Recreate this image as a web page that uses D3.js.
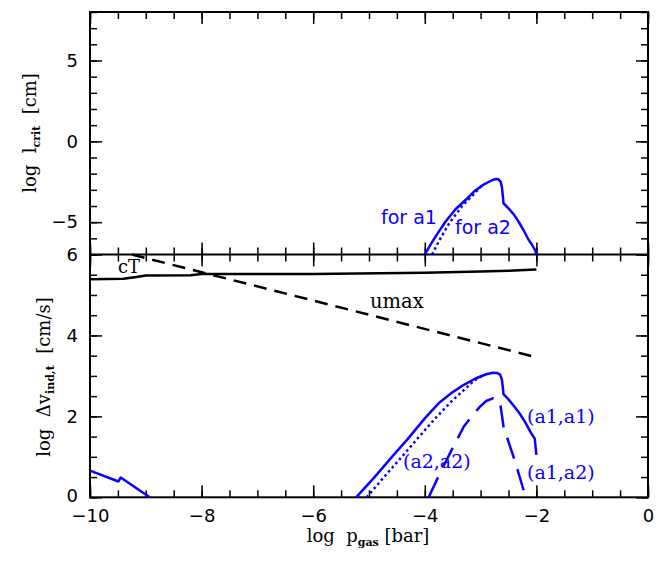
<!DOCTYPE html>
<html><head><meta charset="utf-8">
<script src="https://cdn.jsdelivr.net/npm/d3@7"></script>
<style>body{margin:0;background:#fff}svg{display:block}</style>
</head><body>
<script>
// ---------- data ----------
const xTicksMajor = [-10, -8, -6, -4, -2, 0];
const yTopTicksMajor = [-5, 0, 5];
const yBotTicksMajor = [0, 2, 4, 6];

// top panel: log l_crit
const lcritA1X = [-4.0, -3.9, -3.8, -3.63, -3.45, -3.27, -3.1, -2.95, -2.85, -2.78, -2.72, -2.68, -2.64, -2.62, -2.60, -2.59, -2.5, -2.4, -2.32, -2.23, -2.14, -2.07, -2.02, -2.0];
const lcritA1Y = [-7.0, -6.4, -5.85, -4.97, -4.2, -3.63, -3.05, -2.68, -2.5, -2.38, -2.33, -2.35, -2.5, -2.8, -3.4, -3.83, -4.14, -4.55, -4.97, -5.5, -6.09, -6.45, -6.75, -7.0];
const lcritA2X = [-3.87, -3.72, -3.55, -3.33, -3.13, -2.97];
const lcritA2Y = [-7.0, -6.0, -5.0, -4.0, -3.3, -2.7];

// bottom panel: log dv
const cTX = [-10, -9.4, -9.2, -9.0, -8.2, -8.0, -6.0, -4.0, -3.0, -2.5, -2.0];
const cTY = [5.39, 5.40, 5.44, 5.48, 5.49, 5.52, 5.52, 5.55, 5.58, 5.60, 5.63];
const umaxX = [-9.25, -2.0];
const umaxY = [6.0, 3.46];
const leftBlueX = [-10, -9.49, -9.45, -8.93];
const leftBlueY = [0.66, 0.39, 0.49, 0.0];
const a1a1X = [-5.23, -4.9, -4.6, -4.3, -4.0, -3.87, -3.73, -3.5, -3.3, -3.1, -2.9, -2.78, -2.7, -2.65, -2.62, -2.60, -2.59, -2.5, -2.4, -2.3, -2.2, -2.1, -2.03, -2.0];
const a1a1Y = [0.0, 0.5, 0.98, 1.45, 1.95, 2.15, 2.35, 2.6, 2.78, 2.93, 3.04, 3.08, 3.07, 3.03, 2.92, 2.7, 2.55, 2.42, 2.25, 2.07, 1.85, 1.6, 1.45, 1.05];
const a2a2X = [-5.04, -4.7, -4.4, -4.1, -3.8, -3.5, -3.3, -3.12, -2.95];
const a2a2Y = [0.0, 0.55, 1.02, 1.5, 1.97, 2.4, 2.65, 2.88, 3.02];
const a1a2X = [-3.93, -3.73, -3.49, -3.3, -3.15, -3.01, -2.9, -2.77, -2.7, -2.65, -2.62, -2.59, -2.5, -2.41, -2.32, -2.23, -2.2];
const a1a2Y = [0.0, 0.59, 1.25, 1.75, 2.02, 2.24, 2.38, 2.45, 2.42, 2.32, 2.05, 1.75, 1.37, 1.0, 0.6, 0.18, 0.0];

// ---------- layout ----------
const W = 664, H = 564;
const L = 90, R = 648, T = 12, M = 254.5, B = 497.3;
const BLUE = "#0a00ff";

const svg = d3.select("body").append("svg").attr("width", W).attr("height", H);

const x = d3.scaleLinear().domain([-10, 0]).range([L, R]);
const yTop = d3.scaleLinear().domain([-7, 8]).range([M, T]);
const yBot = d3.scaleLinear().domain([0, 6]).range([B, M]);

const xMinor = d3.range(-10, 0.001, 0.5);
const yTopMinor = d3.range(-7, 8.001, 1);
const yBotMinor = d3.range(0, 6.001, 0.5);

const tickFont = "DejaVu Sans, sans-serif";
const serif = "DejaVu Serif, serif";
const fmt = d3.format("d");

function axis(gen, scale, ticks, size, tx, ty, labels, pad) {
  const a = gen(scale).tickValues(ticks).tickSize(size).tickSizeOuter(0)
    .tickPadding(pad || 0).tickFormat(labels ? fmt : "");
  const g = svg.append("g").attr("transform", `translate(${tx},${ty})`).call(a);
  g.select(".domain").remove();
  g.selectAll(".tick line").attr("stroke", "#000").attr("stroke-width", 1.5);
  g.selectAll("text").attr("font-family", tickFont).attr("font-size", 18).attr("fill", "#000");
  return g;
}

function panelAxes(y, yMajor, yMinor, xTop, xBot, showXLabels) {
  axis(d3.axisTop, x, xMinor, -7, 0, xTop, false);
  axis(d3.axisTop, x, xTicksMajor, -12, 0, xTop, false);
  axis(d3.axisBottom, x, xMinor, -7, 0, xBot, false);
  axis(d3.axisBottom, x, xTicksMajor, -12, 0, xBot, showXLabels, 12);
  axis(d3.axisLeft, y, yMinor, -7, L, 0, false);
  const g = axis(d3.axisLeft, y, yMajor, -12, L, 0, true, 12);
  axis(d3.axisRight, y, yMinor, -7, R, 0, false);
  axis(d3.axisRight, y, yMajor, -12, R, 0, false);
  return g;
}

panelAxes(yTop, yTopTicksMajor, yTopMinor, T, M, false);
const gBotLeft = panelAxes(yBot, yBotTicksMajor, yBotMinor, M, B, true);
// nudge the "0" label a little up so it clears the "−10" label below it
gBotLeft.selectAll(".tick").filter(d => d === 0).select("text").attr("y", -2);

// frame
svg.append("rect").attr("x", L).attr("y", T).attr("width", R - L).attr("height", B - T)
  .attr("fill", "none").attr("stroke", "#000").attr("stroke-width", 2);
svg.append("line").attr("x1", L).attr("x2", R).attr("y1", M).attr("y2", M)
  .attr("stroke", "#000").attr("stroke-width", 2);

// curves
function curve(xs, ys, y, color, dash, width) {
  const pts = xs.map((v, i) => [v, ys[i]]);
  const line = d3.line().x(d => x(d[0])).y(d => y(d[1]));
  svg.append("path").attr("d", line(pts)).attr("fill", "none")
    .attr("stroke", color).attr("stroke-width", width || 2.5)
    .attr("stroke-linejoin", "round")
    .attr("stroke-dasharray", dash || null);
}

curve(lcritA1X, lcritA1Y, yTop, BLUE);
curve(lcritA2X, lcritA2Y, yTop, BLUE, "2.5,3", 2.5);

curve(cTX, cTY, yBot, "#000");
curve(umaxX, umaxY, yBot, "#000", "13,8");
curve(leftBlueX, leftBlueY, yBot, BLUE);
curve(a1a1X, a1a1Y, yBot, BLUE);
curve(a2a2X, a2a2Y, yBot, BLUE, "2.5,3", 2.5);
curve(a1a2X, a1a2Y, yBot, BLUE, "22,11");

// in-plot labels
function label(txt, px, py, color, font, size) {
  svg.append("text").attr("x", px).attr("y", py).text(txt)
    .attr("fill", color).attr("font-family", font).attr("font-size", size);
}
label("for a1", 381, 224, BLUE, tickFont, 19);
label("for a2", 455, 234, BLUE, tickFont, 19);
label("cT", 118, 273, "#000", serif, 18);
label("umax", 370, 308, "#000", serif, 19.5);
label("(a1,a1)", 527, 423, BLUE, serif, 19);
label("(a1,a2)", 527, 479, BLUE, serif, 19);
label("(a2,a2)", 403, 468, BLUE, serif, 19);

// axis titles
function title(parts, tx, ty, rot) {
  const t = svg.append("text").attr("transform", `translate(${tx},${ty}) rotate(${rot})`)
    .attr("text-anchor", "middle").attr("font-family", serif).attr("font-size", 18).attr("fill", "#000");
  parts.forEach(p => {
    const s = t.append("tspan").text(p.t);
    if (p.sub) { s.attr("font-size", 11).attr("font-weight", "bold").attr("dy", 4); }
    if (p.back) { s.attr("dy", -4); }
  });
}
title([{t: "log\u00a0\u00a0l"}, {t: "crit", sub: true}, {t: "\u00a0\u00a0[cm]", back: true}], 36, 133, -90);
title([{t: "log\u00a0\u00a0\u0394v"}, {t: "ind,t", sub: true}, {t: "\u00a0\u00a0[cm/s]", back: true}], 50, 377, -90);
title([{t: "log\u00a0\u00a0p"}, {t: "gas", sub: true}, {t: "\u00a0[bar]", back: true}], 368, 542, 0);
</script>
</body></html>
